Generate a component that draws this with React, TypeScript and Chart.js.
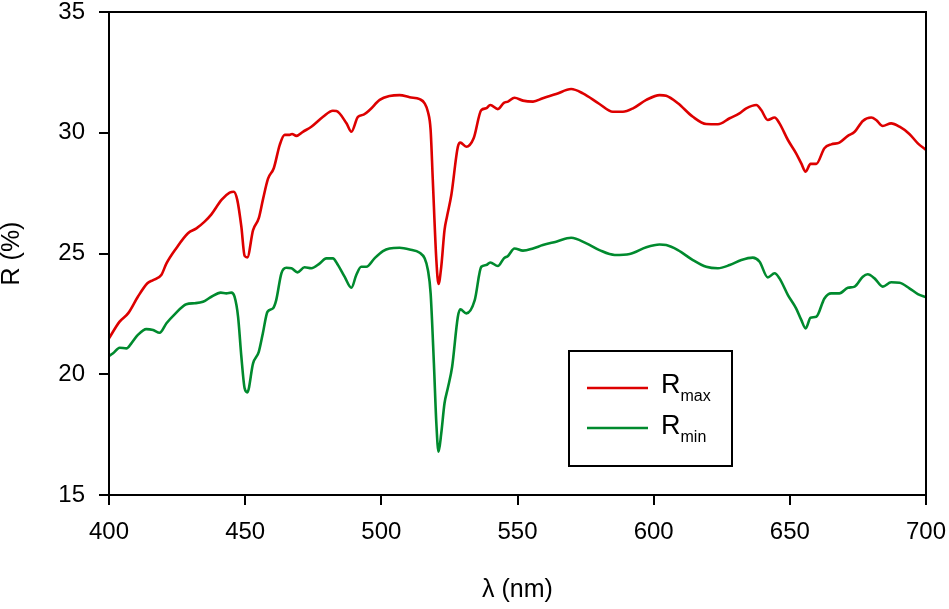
import React, { useEffect, useRef } from "react";
import { Chart, registerables } from "chart.js";

Chart.register(...registerables);

const rmaxWavelength = [400, 403.9, 407, 410.6, 414.1, 416.2, 419.2, 421.1, 424.7, 429, 432.1, 435.1, 437.6, 441.3, 444.3, 445.8, 447.1, 448.6, 449.8, 450.8, 452.9, 455, 456.5, 458.4, 460.5, 462.7, 464.5, 466.3, 467.2, 468.8, 471.2, 474.3, 478.6, 482.2, 483.5, 487.2, 489, 491.4, 493.5, 495.7, 499.4, 503, 506.7, 510.4, 514.1, 515.9, 517.1, 518.1, 518.9, 520.2, 521, 522, 523.2, 524.1, 525.7, 528.1, 529, 531.2, 533.9, 536.7, 538.5, 540, 542.8, 545, 546.5, 548.9, 552, 555.7, 559.3, 564.2, 569.7, 574, 580.1, 585, 588.7, 592.4, 597.3, 602.2, 604.6, 608.9, 614.4, 619.3, 623.6, 627.9, 631.5, 634, 637.7, 639.5, 641.9, 644.4, 646.2, 649.3, 652.3, 654.2, 655.8, 657.6, 659.7, 662.7, 665.2, 668.2, 671.3, 673.8, 676.8, 679.9, 681.7, 684.1, 687.2, 690.3, 693.9, 697, 700];
const rmaxValues = [21.49, 22.18, 22.52, 23.21, 23.77, 23.9, 24.11, 24.59, 25.22, 25.84, 26.04, 26.32, 26.62, 27.22, 27.52, 27.56, 27.22, 26.11, 24.9, 24.84, 25.97, 26.46, 27.22, 28.1, 28.53, 29.5, 29.91, 29.91, 29.95, 29.87, 30.04, 30.25, 30.66, 30.91, 30.9, 30.39, 30.04, 30.66, 30.75, 30.94, 31.36, 31.52, 31.56, 31.47, 31.39, 31.22, 30.87, 30.11, 28.04, 24.73, 23.74, 24.45, 25.97, 26.52, 27.42, 29.42, 29.59, 29.42, 29.77, 30.94, 31.01, 31.15, 30.98, 31.24, 31.29, 31.45, 31.33, 31.29, 31.43, 31.6, 31.81, 31.63, 31.19, 30.87, 30.87, 31.01, 31.36, 31.56, 31.53, 31.22, 30.66, 30.36, 30.35, 30.6, 30.8, 31.01, 31.15, 30.94, 30.53, 30.63, 30.39, 29.7, 29.15, 28.73, 28.39, 28.71, 28.71, 29.36, 29.52, 29.59, 29.87, 30.04, 30.49, 30.63, 30.53, 30.28, 30.39, 30.25, 29.95, 29.56, 29.29];

const rminWavelength = [400, 401.5, 403.9, 406.4, 408.2, 410.6, 413.7, 416.2, 418.6, 421.1, 424.1, 428.4, 431.5, 434.5, 437.6, 441, 443.1, 444.9, 446.1, 447.4, 448.6, 449.8, 450.8, 452.9, 455, 456.5, 458.2, 460.2, 461.4, 463.3, 465.1, 467, 469.2, 471.8, 474.3, 477.4, 479.8, 482.2, 484.1, 486.5, 489, 490.8, 492.6, 494.5, 497.5, 500.6, 503, 506.7, 510.4, 514.1, 515.9, 517.1, 518.1, 519.3, 520.2, 521, 522, 523.2, 524.4, 526, 528.1, 529, 531.2, 534.3, 536.7, 538.5, 540, 542.8, 545, 546.5, 548.9, 552, 555.7, 559.3, 564.2, 569.7, 575.3, 580.1, 585.7, 591.2, 597.3, 602.2, 604.6, 608.9, 614.4, 619.3, 623.6, 627.9, 632.2, 636.4, 638.9, 641.9, 644.4, 646.2, 649.3, 652.3, 654.2, 655.8, 657.6, 659.7, 662.7, 665.2, 668.2, 671.3, 673.8, 676.8, 678.6, 681.1, 684.1, 687.2, 690.3, 693.9, 697, 700];
const rminValues = [20.76, 20.87, 21.1, 21.07, 21.28, 21.63, 21.87, 21.83, 21.72, 22.11, 22.48, 22.9, 22.94, 23.0, 23.21, 23.38, 23.35, 23.38, 23.21, 22.38, 20.73, 19.42, 19.25, 20.45, 20.93, 21.7, 22.59, 22.73, 23.07, 24.18, 24.41, 24.39, 24.22, 24.43, 24.39, 24.59, 24.8, 24.8, 24.52, 24.04, 23.58, 24.11, 24.45, 24.45, 24.8, 25.1, 25.21, 25.24, 25.17, 25.03, 24.8, 24.32, 23.35, 20.45, 17.97, 16.79, 17.55, 18.8, 19.42, 20.31, 22.38, 22.69, 22.52, 23.07, 24.45, 24.52, 24.63, 24.48, 24.8, 24.9, 25.21, 25.12, 25.21, 25.35, 25.49, 25.65, 25.42, 25.14, 24.94, 24.98, 25.26, 25.37, 25.35, 25.14, 24.73, 24.45, 24.39, 24.52, 24.73, 24.83, 24.66, 24.01, 24.18, 23.97, 23.28, 22.73, 22.25, 21.9, 22.34, 22.38, 23.14, 23.35, 23.35, 23.58, 23.63, 24.04, 24.14, 23.97, 23.63, 23.81, 23.79, 23.56, 23.32, 23.19];

const xTicks = [400, 450, 500, 550, 600, 650, 700];
const yTicks = [15, 20, 25, 30, 35];

const seriesNames = ["max", "min"];
const seriesColors = ["#dd0000", "#008a2e"];

const FONT = "'Liberation Sans', Arial, sans-serif";

const frameAndLegend = {
  id: "frameAndLegend",
  afterDraw(chart: any) {
    const { ctx, chartArea } = chart;
    ctx.save();
    ctx.strokeStyle = "#000";
    ctx.lineWidth = 2;
    ctx.strokeRect(chartArea.left, chartArea.top, chartArea.right - chartArea.left, chartArea.bottom - chartArea.top);

    const bx = chartArea.left + 460;
    const by = chartArea.top + 339;
    ctx.strokeRect(bx, by, 163, 115);
    seriesNames.forEach((name, i) => {
      const ly = by + 37 + i * 40;
      ctx.strokeStyle = seriesColors[i];
      ctx.lineWidth = 2.5;
      ctx.beginPath();
      ctx.moveTo(bx + 18, ly);
      ctx.lineTo(bx + 79, ly);
      ctx.stroke();
      ctx.fillStyle = "#000";
      ctx.textBaseline = "alphabetic";
      ctx.textAlign = "left";
      ctx.font = `27px ${FONT}`;
      const rx = bx + 92;
      const base = ly + 5 + i * 1;
      ctx.fillText("R", rx, base);
      const rw = ctx.measureText("R").width;
      ctx.font = `16px ${FONT}`;
      ctx.fillText(name, rx + rw, base + 8);
    });
    ctx.restore();
  },
};

export default function App() {
  const canvasRef = useRef<HTMLCanvasElement | null>(null);

  useEffect(() => {
    if (!canvasRef.current) return;
    const chart = new Chart(canvasRef.current, {
      type: "line",
      data: {
        datasets: [
          {
            label: "Rmax",
            data: rmaxWavelength.map((x, i) => ({ x, y: rmaxValues[i] })),
            borderColor: seriesColors[0],
            borderWidth: 2.6,
            pointRadius: 0,
            cubicInterpolationMode: "monotone",
            fill: false,
          },
          {
            label: "Rmin",
            data: rminWavelength.map((x, i) => ({ x, y: rminValues[i] })),
            borderColor: seriesColors[1],
            borderWidth: 2.6,
            pointRadius: 0,
            cubicInterpolationMode: "monotone",
            fill: false,
          },
        ],
      },
      options: {
        animation: false,
        responsive: false,
        devicePixelRatio: 1,
        layout: { padding: { left: 0, right: 23, top: 12, bottom: 0 } },
        plugins: { legend: { display: false }, tooltip: { enabled: false } },
        scales: {
          x: {
            type: "linear",
            min: 400,
            max: 700,
            afterBuildTicks: (scale: any) => {
              scale.ticks = xTicks.map((v) => ({ value: v }));
            },
            afterFit: (scale: any) => {
              scale.height = 114;
              scale.paddingLeft = 0;
              scale.paddingRight = 0;
            },
            grid: { drawOnChartArea: false, tickLength: 10, color: "#000", lineWidth: 2 },
            border: { color: "#000", width: 2 },
            ticks: { color: "#000", font: { family: FONT, size: 24 }, padding: 13, maxRotation: 0 },
            title: {
              display: true,
              text: "λ (nm)",
              color: "#000",
              font: { family: FONT, size: 25 },
              padding: { top: 0, bottom: 4 },
            },
          },
          y: {
            type: "linear",
            min: 15,
            max: 35,
            afterBuildTicks: (scale: any) => {
              scale.ticks = yTicks.map((v) => ({ value: v }));
            },
            afterFit: (scale: any) => {
              scale.width = 109;
              scale.paddingTop = 0;
              scale.paddingBottom = 0;
            },
            grid: { drawOnChartArea: false, tickLength: 10, color: "#000", lineWidth: 2 },
            border: { color: "#000", width: 2 },
            ticks: { color: "#000", font: { family: FONT, size: 24 }, padding: 14 },
            title: {
              display: true,
              text: "R (%)",
              color: "#000",
              font: { family: FONT, size: 25, lineHeight: 1 },
              padding: { top: 0, bottom: 0 },
            },
          },
        },
      },
      plugins: [frameAndLegend],
    });
    return () => chart.destroy();
  }, []);

  return (
    <div style={{ position: "absolute", left: 0, top: 0, width: 949, height: 609, background: "#fff" }}>
      <canvas ref={canvasRef} width={949} height={609} style={{ width: 949, height: 609 }} />
    </div>
  );
}
